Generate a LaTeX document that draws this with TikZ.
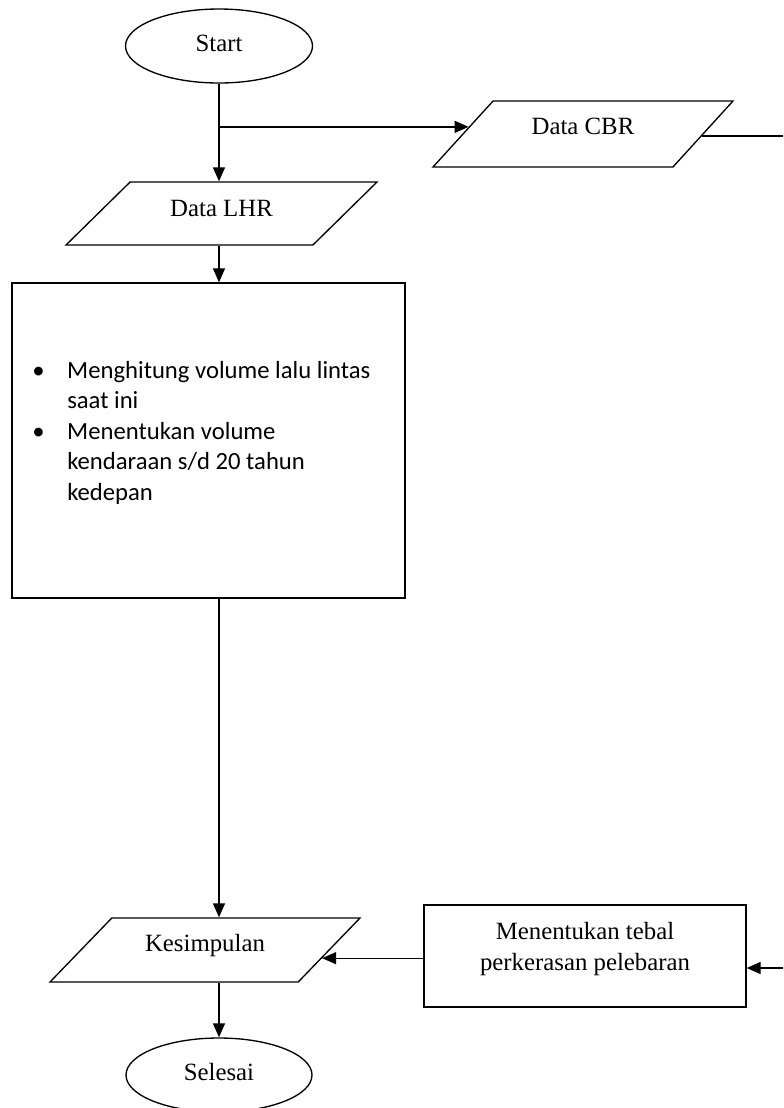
\documentclass[tikz,border=0pt]{standalone}
\usepackage{fontspec}
\setmainfont{Liberation Serif}
\newfontfamily\calfont{Carlito}
\usetikzlibrary{shapes.geometric,arrows.meta,calc}
\begin{document}
\begin{tikzpicture}[x=0.75pt,y=-0.75pt,
  every node/.style={font=\fontsize{18.6}{24}\selectfont},
  term/.style={draw,line width=1pt,ellipse,inner sep=0pt,text height=12.3pt},
  io/.style={draw,line width=1pt,trapezium,trapezium stretches body,inner xsep=0pt,text height=12.3pt},
  proc/.style={draw,line width=1pt,rectangle,inner sep=0pt},
  arr/.style={line width=1pt,-{Triangle[length=10.5pt,width=9pt]}},
  ln/.style={line width=1pt}]
\useasboundingbox (0,0) rectangle (783,1108);
\clip (0,0) rectangle (783,1108);
\fill[white] (0,0) rectangle (783,1108);

\node[term, minimum width=140.25pt, minimum height=55.5pt, text depth=3.8pt] (start) at (219,46) {Start};
\node[io, trapezium left angle=44.5, trapezium right angle=135.5, minimum width=233.25pt, inner ysep=13.575pt, text depth=7.8pt] (lhr) at (221.5,213.5) {Data LHR};
\node[io, trapezium left angle=47.7, trapezium right angle=132.3, minimum width=225pt, inner ysep=13pt, text depth=11.2pt] (cbr) at (583,134) {Data CBR};
\node[proc, minimum width=294.75pt, minimum height=236.25pt] (box1) at (208.5,440.5) {};
\node[anchor=base west, inner sep=0pt, font=\calfont\fontsize{18.5}{22.9}\selectfont] (box1text) at (32,378)
  {\begin{tabular}[t]{@{}p{26.25pt}@{}l@{}}
   \textbullet & Menghitung volume lalu lintas\\
               & saat ini\\
   \textbullet & Menentukan volume\\
               & kendaraan s/d 20 tahun\\
               & kedepan
   \end{tabular}};
\node[io, trapezium left angle=46, trapezium right angle=134, minimum width=232.5pt, inner ysep=12.85pt, text depth=10pt] (kes) at (205,950) {Kesimpulan};
\node[proc, minimum width=241.5pt, minimum height=76.5pt, align=center, font=\fontsize{18.6}{23.8}\selectfont, text height=36.1pt, text depth=14pt] (ment) at (585,956) {Menentukan tebal\\perkerasan pelebaran};
\node[term, minimum width=139.5pt, minimum height=55.5pt, text depth=3.8pt] (sel) at (219,1075) {Selesai};

\coordinate (cbrin) at ($(cbr.bottom left corner)!0.606!(cbr.top left corner)$);
\coordinate (cbrout) at ($(cbr.bottom right corner)!0.47!(cbr.top right corner)$);
\coordinate (kesin) at ($(kes.bottom right corner)!0.375!(kes.top right corner)$);
\coordinate (rt) at (800,968);

\draw[arr] (start.south) -- (start.south |- lhr.north);
\draw[arr] (start.south |- cbrin) -- (cbrin);
\draw[arr] (start.south |- lhr.south) -- (start.south |- box1.north);
\draw[arr] (start.south |- box1.south) -- (start.south |- kes.north);
\draw[arr] (start.south |- kes.south) -- (start.south |- sel.north);
\draw[arr] (cbrout) -- (cbrout -| rt) -- (rt) -- (rt -| ment.east);
\draw[arr] (kesin -| ment.west) -- (kesin);
\end{tikzpicture}
\end{document}
